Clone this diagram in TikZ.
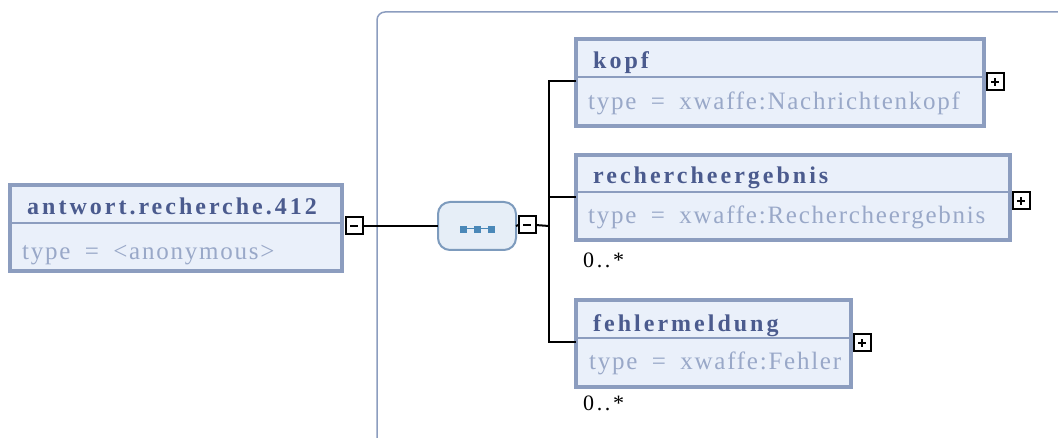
\documentclass[tikz,border=0pt]{standalone}
\usepackage{fontspec}
\setmainfont{Liberation Serif}
\newfontfamily\titlefont{Liberation Serif}[LetterSpace=12.5]
\newfontfamily\typefont{Liberation Serif}[LetterSpace=7,WordSpace=1.8]
\newfontfamily\cardfont{Liberation Serif}[LetterSpace=12]
\definecolor{bordercol}{HTML}{8C9DBF}
\definecolor{fillcol}{HTML}{EAF0FA}
\definecolor{titlecol}{HTML}{4B5B8E}
\definecolor{typecol}{HTML}{99A8C8}
\definecolor{seqfill}{HTML}{E6EEF7}
\definecolor{seqborder}{HTML}{7D9BBD}
\definecolor{iconcol}{HTML}{4A88B8}
\tikzset{
  elbox/.style={draw=bordercol, fill=fillcol, line width=4pt, rectangle, inner sep=0pt, outer sep=0pt, anchor=north west},
  divider/.style={draw=bordercol, line width=2pt},
  titletext/.style={anchor=base west, inner sep=0pt, text=titlecol, font=\titlefont\bfseries\fontsize{24}{28}\selectfont},
  typetext/.style={anchor=base west, inner sep=0pt, text=typecol, font=\typefont\fontsize{25}{29}\selectfont},
  cardtext/.style={anchor=base west, inner sep=0pt, text=black, font=\cardfont\fontsize{22}{26}\selectfont},
  togglebox/.style={draw=black, fill=white, line width=2pt, minimum width=17pt, minimum height=17pt, inner sep=0pt, outer sep=0pt},
  conn/.style={draw=black, line width=2pt},
  seqbox/.style={draw=seqborder, fill=seqfill, line width=2pt, rounded corners=12pt, minimum width=78pt, minimum height=48pt, inner sep=0pt, outer sep=0pt},
  iconsq/.style={fill=iconcol, draw=iconcol, minimum width=6pt, minimum height=6pt, inner sep=0pt}
}
\begin{document}
\begin{tikzpicture}[x=1pt,y=-1pt]
\useasboundingbox (0,0) rectangle (1058,438);
% group bracket
\draw[bordercol, line width=1.5pt, rounded corners=8pt] (1070,12) -- (377,12) -- (377,450);

% root element
\node[elbox, minimum width=332pt, minimum height=86pt] (root) at (10,185) {};
\draw[divider] ([yshift=-38pt]root.north west) -- ([yshift=-38pt]root.north east);
\node[titletext] (roottitle) at (27,215) {antwort.recherche.412};
\node[typetext] (roottype) at (22,260) {type = <anonymous>};
\node[togglebox] (rootminus) at (354,226) {};
\draw[line width=2pt] ([xshift=-4pt]rootminus.center) -- ([xshift=4pt]rootminus.center);

% sequence
\node[seqbox] (seq) at (477,226) {};
\node[iconsq] (sq1) at (463,229) {};
\node[iconsq] (sq2) at (477,229) {};
\node[iconsq] (sq3) at (491,229) {};
\draw[iconcol, line width=1pt] (sq1) -- (sq2) -- (sq3);
\node[togglebox] (seqminus) at (527,225) {};
\draw[line width=2pt] ([xshift=-4pt]seqminus.center) -- ([xshift=4pt]seqminus.center);

% children
\node[elbox, minimum width=408pt, minimum height=87pt] (kopf) at (576,39) {};
\draw[divider] ([yshift=-38pt]kopf.north west) -- ([yshift=-38pt]kopf.north east);
\node[titletext] (kopftitle) at (593,69) {kopf};
\node[typetext] (kopftype) at (588,110) {type = xwaffe:Nachrichtenkopf};
\node[togglebox] (kopfplus) at (995,82) {};
\draw[line width=2pt] ([xshift=-4pt]kopfplus.center) -- ([xshift=4pt]kopfplus.center);
\draw[line width=2pt] ([yshift=-4pt]kopfplus.center) -- ([yshift=4pt]kopfplus.center);

\node[elbox, minimum width=434pt, minimum height=85pt] (rech) at (576,155) {};
\draw[divider] ([yshift=-37pt]rech.north west) -- ([yshift=-37pt]rech.north east);
\node[titletext] (rechtitle) at (593,184) {rechercheergebnis};
\node[typetext] (rechtype) at (588,224) {type = xwaffe:Rechercheergebnis};
\node[togglebox] (rechplus) at (1021,201) {};
\draw[line width=2pt] ([xshift=-4pt]rechplus.center) -- ([xshift=4pt]rechplus.center);
\draw[line width=2pt] ([yshift=-4pt]rechplus.center) -- ([yshift=4pt]rechplus.center);
\node[cardtext] (rechcard) at (583,268) {0..*};

\node[elbox, minimum width=275pt, minimum height=87pt] (fehl) at (576,300) {};
\draw[divider] ([yshift=-38pt]fehl.north west) -- ([yshift=-38pt]fehl.north east);
\node[titletext] (fehltitle) at (593,332) {fehlermeldung};
\node[typetext] (fehltype) at (589,370) {type = xwaffe:Fehler};
\node[togglebox] (fehlplus) at (862,343) {};
\draw[line width=2pt] ([xshift=-4pt]fehlplus.center) -- ([xshift=4pt]fehlplus.center);
\draw[line width=2pt] ([yshift=-4pt]fehlplus.center) -- ([yshift=4pt]fehlplus.center);
\node[cardtext] (fehlcard) at (583,410) {0..*};

% connectors
\coordinate (trunk) at (549,226);
\draw[conn] (rootminus.east) -- (seq.west);
\draw[conn] (seq.east) -- (seqminus.west);
\draw[conn] (seqminus.east) -- (trunk);
\draw[conn] (kopf.west |- 0,81) -| (trunk) |- (fehl.west |- 0,342);
\draw[conn] (trunk |- 0,197) -- (rech.west |- 0,197);
\end{tikzpicture}
\end{document}
